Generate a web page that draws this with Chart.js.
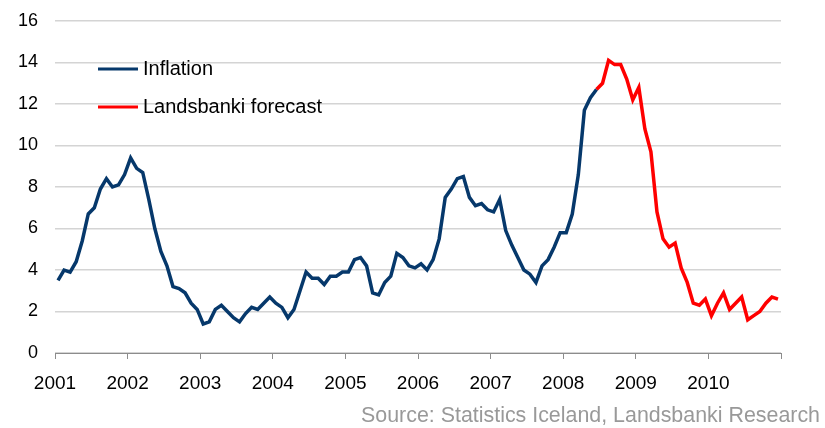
<!DOCTYPE html>
<html>
<head>
<meta charset="utf-8">
<script src="https://cdn.jsdelivr.net/npm/chart.js@4"></script>
<style>
  html, body { margin: 0; padding: 0; background: #fff; }
  #wrap { width: 825px; height: 428px; position: relative; }
</style>
</head>
<body>
<div id="wrap"><canvas id="infl"></canvas></div>
<script>
const years = ['2001', '2002', '2003', '2004', '2005', '2006', '2007', '2008', '2009', '2010'];

// 12-month inflation, monthly from Jan 2001 (measured part)
const inflation = [
  3.5, 4.0, 3.9, 4.4, 5.4, 6.7, 7.0, 7.9, 8.4, 8.0, 8.1, 8.6,
  9.4, 8.9, 8.7, 7.4, 6.0, 4.9, 4.2, 3.2, 3.1, 2.9, 2.4, 2.1,
  1.4, 1.5, 2.1, 2.3, 2.0, 1.7, 1.5, 1.9, 2.2, 2.1, 2.4, 2.7,
  2.4, 2.2, 1.7, 2.1, 3.0, 3.9, 3.6, 3.6, 3.3, 3.7, 3.7, 3.9,
  3.9, 4.5, 4.6, 4.2, 2.9, 2.8, 3.4, 3.7, 4.8, 4.6, 4.2, 4.1,
  4.3, 4.0, 4.5, 5.5, 7.5, 7.9, 8.4, 8.5, 7.5, 7.1, 7.2, 6.9,
  6.8, 7.4, 5.9, 5.2, 4.6, 4.0, 3.8, 3.4, 4.2, 4.5, 5.1, 5.8,
  5.8, 6.7, 8.6, 11.7, 12.3, 12.7
];

// Landsbanki forecast, continues from the last measured month (Jun 2008)
const forecastStart = 89;
const forecast = [
  12.7, 13.0, 14.1, 13.9, 13.9, 13.2, 12.2,
  12.8, 10.8, 9.7, 6.8, 5.5, 5.1, 5.3, 4.1, 3.4, 2.4, 2.3, 2.6,
  1.8, 2.4, 2.9, 2.1, 2.4, 2.7, 1.6, 1.8, 2.0, 2.4, 2.7, 2.6
];

const FONT = 'Liberation Sans, Arial, sans-serif';

const insideLegend = {
  id: 'insideLegend',
  afterDraw(chart) {
    const ctx = chart.ctx;
    const a = chart.chartArea;
    ctx.save();
    chart.data.datasets.forEach((ds, i) => {
      const y = a.top + 48 + i * 38;
      const x = a.left + 43;
      ctx.strokeStyle = ds.borderColor;
      ctx.lineWidth = 3;
      ctx.beginPath();
      ctx.moveTo(x, y);
      ctx.lineTo(x + 40, y);
      ctx.stroke();
      ctx.fillStyle = '#000';
      ctx.font = '20px ' + FONT;
      ctx.textBaseline = 'middle';
      ctx.textAlign = 'left';
      ctx.fillText(ds.label, x + 45, y);
    });
    ctx.fillStyle = '#999';
    ctx.font = '21.4px ' + FONT;
    ctx.textAlign = 'right';
    ctx.textBaseline = 'alphabetic';
    ctx.fillText('Source: Statistics Iceland, Landsbanki Research', 820, 422);
    ctx.restore();
  }
};

new Chart(
  document.getElementById('infl'),
  {
    type: 'line',
    data: {
      datasets: [
        {
          label: 'Inflation',
          data: inflation.map((v, i) => ({ x: i + 0.5, y: v })),
          borderColor: '#06386b',
          borderWidth: 3.5,
          pointRadius: 0,
          tension: 0
        },
        {
          label: 'Landsbanki forecast',
          data: forecast.map((v, i) => ({ x: forecastStart + i + 0.5, y: v })),
          borderColor: '#ff0000',
          borderWidth: 3.5,
          pointRadius: 0,
          tension: 0
        }
      ]
    },
    options: {
      responsive: true,
      maintainAspectRatio: false,
      animation: false,
      layout: { padding: { top: 21, right: 44, bottom: 0, left: 10 } },
      plugins: {
        legend: { display: false },
        tooltip: { enabled: false }
      },
      scales: {
        x: {
          type: 'linear',
          min: 0,
          max: years.length * 12,
          afterFit(scale) { scale.height = 75; scale.paddingLeft = 0; scale.paddingRight = 0; },
          border: { color: '#8c8c8c', width: 1 },
          grid: { drawOnChartArea: false, drawTicks: true, tickLength: 6, color: '#8c8c8c' },
          ticks: {
            stepSize: 12,
            autoSkip: false,
            maxRotation: 0,
            padding: 13,
            color: '#000',
            font: { family: FONT, size: 19 },
            callback: v => years[v / 12] || ''
          }
        },
        y: {
          min: 0,
          max: 16,
          afterFit(scale) { scale.width = 45; scale.paddingTop = 0; scale.paddingBottom = 0; },
          border: { display: false },
          grid: { color: '#d4d4d4', lineWidth: 1.5, drawTicks: false },
          ticks: {
            stepSize: 2,
            padding: 17,
            color: '#000',
            font: { family: FONT, size: 18 }
          }
        }
      }
    },
    plugins: [insideLegend]
  }
);
</script>
</body>
</html>
